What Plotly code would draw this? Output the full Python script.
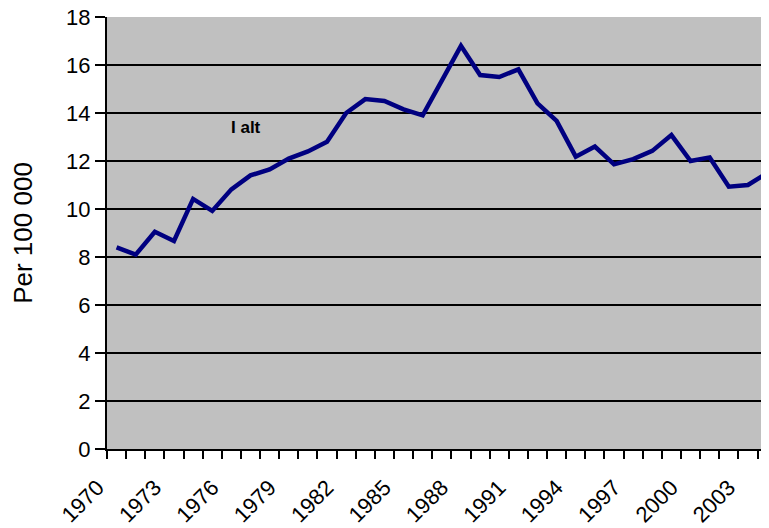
import plotly.graph_objects as go

# Per 100 000, i alt
years = list(range(1970, 2005))
rate = [8.4, 8.1, 9.05, 8.67, 10.42, 9.92, 10.82, 11.4, 11.65, 12.1,
        12.4, 12.8, 14.0, 14.58, 14.5, 14.15, 13.9, 15.37, 16.8, 15.58,
        15.5, 15.82, 14.4, 13.67, 12.18, 12.6, 11.86, 12.08, 12.42, 13.08,
        12.0, 12.15, 10.93, 11.0, 11.5]
label_years = list(range(1970, 2005, 3))
y_ticks = list(range(0, 19, 2))

fig = go.Figure()
fig.add_trace(go.Scatter(x=years, y=rate, mode="lines",
                         line=dict(color="#000080", width=4.5)))

fig.add_annotation(x=1976.75, y=13.4, text="<b>I alt</b>", showarrow=False,
                   font=dict(size=17, color="black"))

# page body has an 8px margin, so the figure is 8px smaller than the window
fig.update_layout(
    width=761, height=520,
    margin=dict(l=99, r=0, t=9, b=79),
    plot_bgcolor="#C0C0C0",
    paper_bgcolor="white",
    showlegend=False,
    font=dict(family="Liberation Sans, Arial, sans-serif", size=22, color="black"),
)
fig.update_xaxes(
    range=[1969.5, 2004.1],
    automargin=False,
    tickvals=label_years,
    ticktext=[str(y) for y in label_years],
    tickangle=-45,
    ticks="", showgrid=False,
    ticklabelstandoff=15, ticklabelshift=-19,
    ticklabeloverflow="allow",
    showline=True, linecolor="black", linewidth=2,
    minor=dict(tick0=1969.5, dtick=1, ticks="outside", ticklen=8,
               tickcolor="black", tickwidth=2, showgrid=False),
)
fig.update_yaxes(
    range=[0, 18],
    automargin=False,
    tickvals=y_ticks,
    ticks="outside", ticklen=10, tickcolor="black", tickwidth=2,
    ticklabeloverflow="allow",
    showgrid=True, gridcolor="black", gridwidth=1.5,
    showline=True, linecolor="black", linewidth=2,
    zeroline=False,
    title=dict(text="Per 100 000", font=dict(size=26), standoff=26),
)

fig.write_html("out.html")
